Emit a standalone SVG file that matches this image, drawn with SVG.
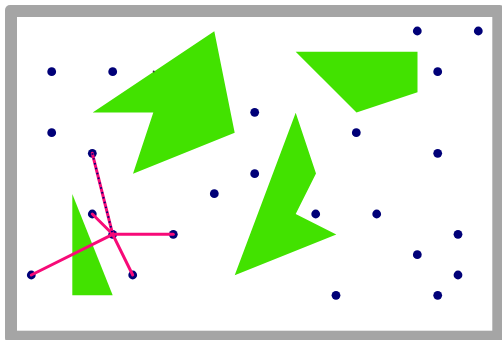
<svg xmlns="http://www.w3.org/2000/svg" width="502" height="340" viewBox="0 0 502 340">
<style>
.frame{fill:#a5a5a5}
.area{fill:#ffffff}
.poly{fill:#42e200}
.dot{fill:#000078}
.link{stroke:#f70a78;stroke-width:3;fill:none;stroke-linecap:round}
.dash{stroke:#000078;stroke-width:2;fill:none;stroke-dasharray:1.5 3.5}
</style>
<rect class="frame" x="5" y="5" width="500" height="338" rx="5"/>
<rect class="area" x="17" y="17" width="475.3" height="313.7"/>
<g id="obstacles">
<polygon id="poly1" class="poly" points="214.3,31.3 234.7,132.7 133,173.7 153.3,112.5 92.7,112.5"/>
<polygon id="poly2" class="poly" points="295.7,51.7 417.5,51.7 417.5,92.2 356.5,112.5"/>
<polygon id="poly3" class="poly" points="295.7,112.7 316,173.5 295.7,214 336.3,234.5 234.7,275.2"/>
<polygon id="poly4" class="poly" points="72.3,194 112.7,295.3 72.3,295.3"/>
</g>
<g id="nodes">
<circle id="n1" class="dot" cx="417.3" cy="31" r="4.4"/>
<circle id="n2" class="dot" cx="478.3" cy="31" r="4.4"/>
<circle id="n3" class="dot" cx="51.7" cy="71.7" r="4.4"/>
<circle id="n4" class="dot" cx="112.7" cy="71.7" r="4.4"/>
<circle id="n5" class="dot" cx="437.7" cy="71.7" r="4.4"/>
<circle id="n6" class="dot" cx="254.7" cy="112.3" r="4.4"/>
<circle id="n7" class="dot" cx="51.7" cy="132.7" r="4.4"/>
<circle id="n8" class="dot" cx="356.3" cy="132.7" r="4.4"/>
<circle id="n9" class="dot" cx="92.3" cy="153.3" r="4.4"/>
<circle id="n10" class="dot" cx="437.7" cy="153.3" r="4.4"/>
<circle id="n11" class="dot" cx="254.7" cy="173.7" r="4.4"/>
<circle id="n12" class="dot" cx="214.3" cy="193.7" r="4.4"/>
<circle id="n13" class="dot" cx="92.3" cy="214" r="4.4"/>
<circle id="n14" class="dot" cx="315.7" cy="214" r="4.4"/>
<circle id="n15" class="dot" cx="376.7" cy="214" r="4.4"/>
<circle id="n16" class="dot" cx="112.7" cy="234.3" r="4.4"/>
<circle id="n17" class="dot" cx="173.3" cy="234.3" r="4.4"/>
<circle id="n18" class="dot" cx="458" cy="234.3" r="4.4"/>
<circle id="n19" class="dot" cx="417.3" cy="254.7" r="4.4"/>
<circle id="n20" class="dot" cx="31.3" cy="275" r="4.4"/>
<circle id="n21" class="dot" cx="132.7" cy="275" r="4.4"/>
<circle id="n22" class="dot" cx="458" cy="275" r="4.4"/>
<circle id="n23" class="dot" cx="336" cy="295.3" r="4.4"/>
<circle id="n24" class="dot" cx="437.7" cy="295.3" r="4.4"/>
</g>
<g id="connectors">
<line class="link" x1="112.7" y1="234.3" x2="31.3" y2="275"/>
<line class="link" x1="112.7" y1="234.3" x2="92.3" y2="214"/>
<line class="link" x1="112.7" y1="234.3" x2="173.3" y2="234.3"/>
<line class="link" x1="112.7" y1="234.3" x2="132.7" y2="275"/>
<line class="link" x1="112.7" y1="234.3" x2="92.3" y2="153.3"/>
<line class="dash" x1="92.3" y1="153.3" x2="112.7" y2="234.3"/>
</g>
<g id="speck">
<circle cx="153.7" cy="71.5" r="1" fill="#3a3a3a"/>
</g>
</svg>
